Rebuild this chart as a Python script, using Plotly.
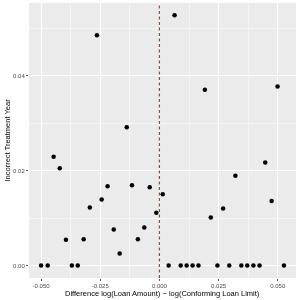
import plotly.graph_objects as go

x_diff = [-0.0500, -0.0472, -0.0447, -0.0421, -0.0395, -0.0370, -0.0345, -0.0320,
          -0.0294, -0.0264, -0.0244, -0.0219, -0.0193, -0.0168, -0.0138, -0.0116,
          -0.0091, -0.0064, -0.0041, -0.0013, 0.0014, 0.0039, 0.0064, 0.0090,
          0.0115, 0.0140, 0.0165, 0.0192, 0.0217, 0.0245, 0.0269, 0.0295,
          0.0321, 0.0346, 0.0371, 0.0397, 0.0423, 0.0447, 0.0474, 0.0499, 0.0526]
y_incorrect = [0.0, 0.0, 0.0229, 0.0205, 0.0054, 0.0, 0.0, 0.0055,
               0.0122, 0.0485, 0.0139, 0.0167, 0.0076, 0.0025, 0.0291, 0.0169,
               0.0055, 0.0080, 0.0165, 0.0111, 0.0150, 0.0, 0.0527, 0.0,
               0.0, 0.0, 0.0, 0.0370, 0.0101, 0.0, 0.0120, 0.0,
               0.0189, 0.0, 0.0, 0.0, 0.0, 0.0217, 0.0136, 0.0377, 0.0]

x_ticks = [-0.05, -0.025, 0.0, 0.025, 0.05]
x_tick_labels = ["-0.050", "-0.025", "0.000", "0.025", "0.050"]
y_ticks = [0.0, 0.02, 0.04]
y_tick_labels = ["0.00", "0.02", "0.04"]

fig = go.Figure()
fig.add_trace(go.Scatter(
    x=x_diff, y=y_incorrect, mode="markers",
    marker=dict(color="black", size=4.5, line=dict(width=0)),
    showlegend=False, hoverinfo="skip"))

fig.add_shape(type="line", x0=0, x1=0, y0=0, y1=1, xref="x", yref="paper",
              line=dict(color="#FF1A1A", width=1.2, dash="3px,2.5px"))

fig.add_annotation(text="Difference log(Loan Amount) \u2212 log(Conforming Loan Limit)",
                   xref="paper", yref="paper", x=0.5, y=0, yshift=-15,
                   xanchor="center", yanchor="middle", showarrow=False,
                   font=dict(size=7.5, color="#000000"))
fig.add_annotation(text="Incorrect Treatment Year",
                   xref="paper", yref="paper", x=0, y=0.5, xshift=-22,
                   xanchor="center", yanchor="middle", textangle=-90, showarrow=False,
                   font=dict(size=7.5, color="#000000"))

font_family = "Liberation Sans, Arial, sans-serif"
fig.update_layout(
    width=300, height=300,
    margin=dict(l=29, r=4, t=3, b=22, autoexpand=False),
    paper_bgcolor="white", plot_bgcolor="#EBEBEB",
    font=dict(family=font_family, size=6, color="#4D4D4D"),
    hovermode=False,
    xaxis=dict(
        range=[-0.0551, 0.0577], tickvals=x_ticks, ticktext=x_tick_labels,
        automargin=False,
        showgrid=True, gridcolor="white", gridwidth=1,
        minor=dict(tickvals=[-0.0375, -0.0125, 0.0125, 0.0375], showgrid=True,
                   gridcolor="white", gridwidth=0.5, ticks=""),
        zeroline=False, showline=False,
        ticks="outside", ticklen=2, tickwidth=0.8, tickcolor="#333333",
        tickfont=dict(size=6, color="#4D4D4D"),
    ),
    yaxis=dict(
        range=[-0.00264, 0.0553], tickvals=y_ticks, ticktext=y_tick_labels,
        automargin=False,
        showgrid=True, gridcolor="white", gridwidth=1,
        minor=dict(tickvals=[0.01, 0.03, 0.05], showgrid=True,
                   gridcolor="white", gridwidth=0.5, ticks=""),
        zeroline=False, showline=False,
        ticks="outside", ticklen=2, tickwidth=0.8, tickcolor="#333333",
        tickfont=dict(size=6, color="#4D4D4D"),
    ),
)

post = ("document.body.style.margin='0';document.body.style.overflow='hidden';"
        "document.querySelectorAll('.main-svg').forEach(function(s){s.style.willChange='transform';});")
fig.write_html("out.html",
               config={"displayModeBar": False, "staticPlot": True},
               post_script=post)
